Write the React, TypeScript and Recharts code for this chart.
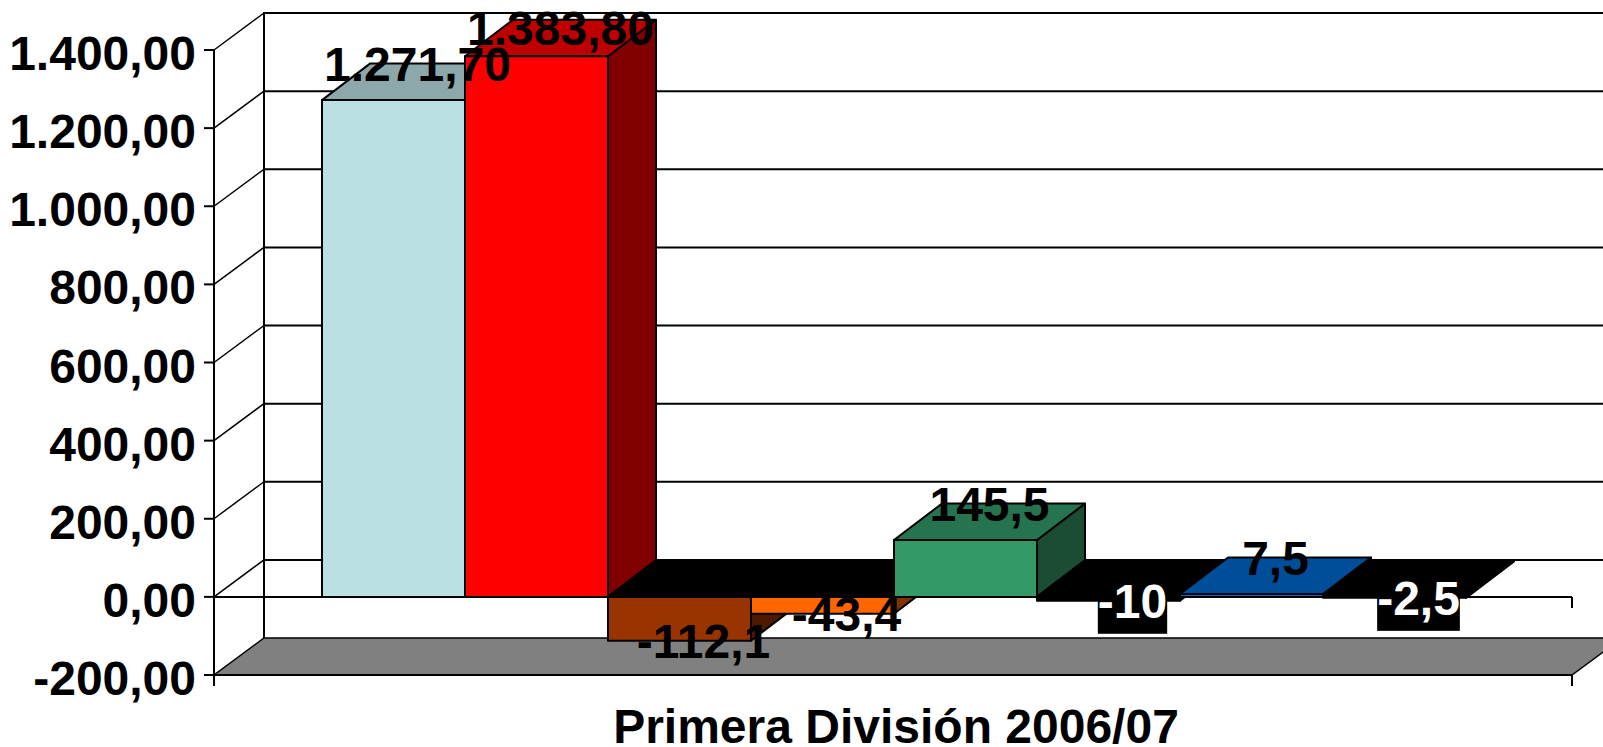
import { BarChart, Bar, XAxis, YAxis, ReferenceLine, LabelList } from "recharts"

const category = "Primera División 2006/07"
const yTicks = [-200, 0, 200, 400, 600, 800, 1000, 1200, 1400]
const seriesKeys = ["s1", "s2", "s3", "s4", "s5", "s6", "s7", "s8"]
const seriesValues = [1271.7, 1383.8, -112.1, -43.4, 145.5, -10, 7.5, -2.5]
const dataLabels = ["1.271,70", "1.383,80", "-112,1", "-43,4", "145,5", "-10", "7,5", "-2,5"]
const invertedLabels = [false, false, false, false, false, true, false, true]
const frontColors = ["#BAE0E3", "#FF0000", "#993300", "#FF6600", "#339966", "#000000", "#0066CC", "#000000"]
const topColors = ["#8CA8AA", "#BF0000", "#000000", "#000000", "#267350", "#000000", "#004D99", "#000000"]
const sideColors = ["#5D7071", "#800000", "#4D1A00", "#803300", "#1A4D33", "#000000", "#003366", "#000000"]

const row: Record<string, string | number> = { name: category }
seriesKeys.forEach((key, i) => {
  row[key] = seriesValues[i]
})
const chartData = [row]

const FONT = "'Liberation Sans', Arial, sans-serif"
const FONT_SIZE = 48
const DEPTH_X = 50
const DEPTH_Y = 37
const BAR_DEPTH_X = 48
const BAR_DEPTH_Y = 36.5

// Side wall diagonal and the gridline on the back wall
const BackGridLine = ({ x1, x2, y1 }: any) => {
  const backY = y1 - DEPTH_Y
  return (
    <g stroke="#000" fill="none">
      <line x1={x1} y1={y1} x2={x1 + DEPTH_X} y2={backY} strokeWidth={1.5} />
      <line x1={x1 + DEPTH_X} y1={backY} x2={x2 + DEPTH_X} y2={backY} strokeWidth={2} />
    </g>
  )
}

// Grey floor plus the vertical lines that start from it
const Floor = ({ x1, x2, y1 }: any) => {
  const backY = y1 - DEPTH_Y
  return (
    <g stroke="#000">
      <polygon
        points={`${x1},${y1} ${x2},${y1} ${x2 + DEPTH_X},${backY} ${x1 + DEPTH_X},${backY}`}
        fill="#808080"
        strokeWidth={1.5}
      />
      <line x1={x1} y1={y1} x2={x1} y2={y1 + 11} strokeWidth={2} />
      <line x1={x2} y1={y1} x2={x2} y2={y1 + 11} strokeWidth={2} />
      <line x1={x1 + DEPTH_X} y1={12} x2={x1 + DEPTH_X} y2={backY} strokeWidth={2} />
    </g>
  )
}

const ZeroLine = ({ x1, x2, y1 }: any) => (
  <g stroke="#000" strokeWidth={2}>
    <line x1={x1} y1={y1} x2={x2} y2={y1} />
    <line x1={x2} y1={y1} x2={x2} y2={y1 + 11} />
  </g>
)

const Box3D = ({ x, y, width, height, index }: any) => {
  const top = Math.min(y, y + height)
  const bottom = Math.max(y, y + height)
  const right = x + width
  return (
    <g stroke="#000" strokeWidth={2} strokeLinejoin="round">
      <polygon
        points={`${right},${top} ${right + BAR_DEPTH_X},${top - BAR_DEPTH_Y} ${right + BAR_DEPTH_X},${bottom - BAR_DEPTH_Y} ${right},${bottom}`}
        fill={sideColors[index]}
      />
      <polygon
        points={`${x},${top} ${right},${top} ${right + BAR_DEPTH_X},${top - BAR_DEPTH_Y} ${x + BAR_DEPTH_X},${top - BAR_DEPTH_Y}`}
        fill={topColors[index]}
      />
      <rect x={x} y={top} width={width} height={bottom - top} fill={frontColors[index]} />
    </g>
  )
}

const labelWidth = (text: string) =>
  text.split("").reduce((sum, c) => sum + (c === "-" ? 0.333 : c === "," || c === "." ? 0.278 : 0.556), 0) * FONT_SIZE

const BarLabel = ({ x, y, width, height, seriesIndex }: any) => {
  const value = seriesValues[seriesIndex]
  const text = dataLabels[seriesIndex]
  const cx = x + width / 2 + 24
  const top = Math.min(y, y + height)
  const bottom = Math.max(y, y + height)
  const baseline = value >= 0 ? Math.max(45, top - 19) : bottom + 17
  const w = labelWidth(text)
  return (
    <g>
      {invertedLabels[seriesIndex] && (
        <rect x={cx - w / 2} y={baseline - 37} width={w} height={53} fill="#000" />
      )}
      <text
        x={cx}
        y={baseline}
        textAnchor="middle"
        fontSize={FONT_SIZE}
        fontWeight={700}
        fontFamily={FONT}
        fill={invertedLabels[seriesIndex] ? "#fff" : "#000"}
      >
        {text}
      </text>
    </g>
  )
}

const CategoryTick = ({ x, payload }: any) => (
  <text x={x + 3} y={743} textAnchor="middle" fontSize={FONT_SIZE} fontWeight={700} fontFamily={FONT} fill="#000">
    {payload.value}
  </text>
)

const formatTick = (value: number) =>
  value.toLocaleString("de-DE", { minimumFractionDigits: 2, maximumFractionDigits: 2 })

export default function App() {
  return (
    <div style={{ position: "absolute", left: 0, top: 0, width: 1603, height: 747, overflow: "hidden", background: "#fff" }}>
      <BarChart
        width={1603}
        height={747}
        data={chartData}
        margin={{ top: 50, right: 31, bottom: 0, left: 0 }}
        barCategoryGap={108}
        barGap={0}
      >
        <XAxis
          dataKey="name"
          height={72}
          axisLine={{ stroke: "#000", strokeWidth: 2 }}
          tickLine={false}
          tick={<CategoryTick />}
        />
        <YAxis
          width={214}
          domain={[-200, 1400]}
          ticks={yTicks}
          interval={0}
          tickSize={10}
          tickMargin={8}
          tickFormatter={formatTick}
          axisLine={{ stroke: "#000", strokeWidth: 2 }}
          tickLine={{ stroke: "#000", strokeWidth: 2 }}
          tick={{ fontSize: FONT_SIZE, fontWeight: 700, fill: "#000", fontFamily: FONT, dy: 3 }}
        />
        <ReferenceLine y={-200} shape={<Floor />} zIndex={-60} />
        {yTicks.slice(1).map((tick) => (
          <ReferenceLine key={tick} y={tick} shape={<BackGridLine />} zIndex={-50} />
        ))}
        <ReferenceLine y={0} shape={<ZeroLine />} zIndex={-40} />
        {seriesKeys.map((key, i) => (
          <Bar
            key={key}
            dataKey={key}
            isAnimationActive={false}
            shape={(props: any) => <Box3D {...props} index={i} />}
          >
            <LabelList content={(props: any) => <BarLabel {...props} seriesIndex={i} />} />
          </Bar>
        ))}
      </BarChart>
    </div>
  )
}
